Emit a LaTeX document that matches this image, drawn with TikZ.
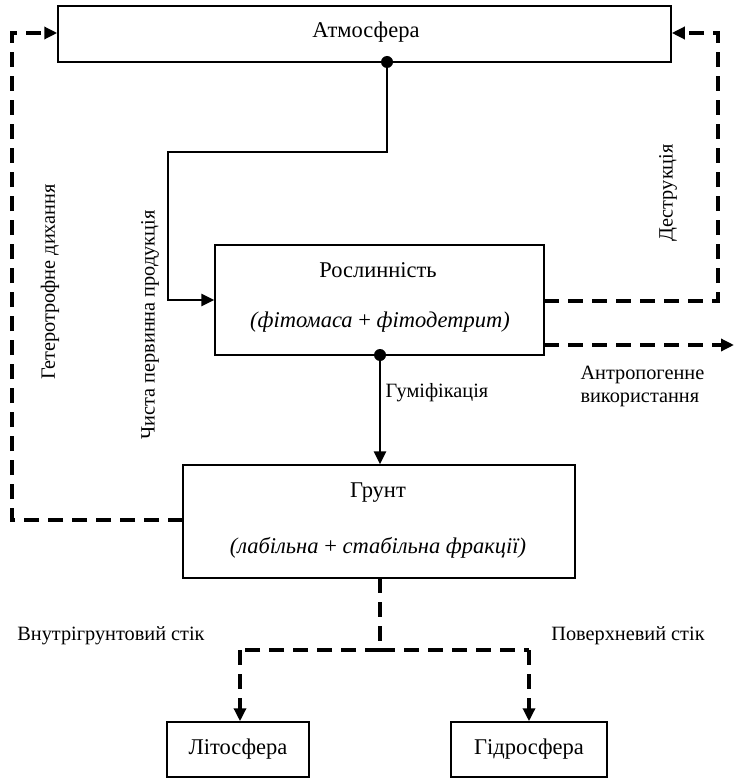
\documentclass[tikz,border=0pt]{standalone}
\usepackage{fontspec}
\setmainfont{Liberation Serif}
\usetikzlibrary{arrows.meta}
\begin{document}
\begin{tikzpicture}[x=1pt,y=-1pt,
  box/.style={draw,line width=1.5pt,inner sep=0pt,font=\fontsize{22.5}{26}\selectfont},
  btxt/.style={font=\fontsize{22.5}{26}\selectfont},
  solidline/.style={line width=2.8pt},
  dashline/.style={line width=3.8pt,dash pattern=on 15pt off 9pt},
  tip/.style={-{Triangle[length=13pt,width=12pt]}},
  lbl/.style={font=\fontsize{20.3}{23}\selectfont},
  dotc/.style={circle,fill,inner sep=0pt,minimum size=12pt}]
\useasboundingbox (0,0) rectangle (734,778);
% boxes
\node[box,minimum width=613pt,minimum height=56pt] (atm) at (364.5,34) {};
\node[btxt] (atmt) at (366,32) {Атмосфера};
\node[box,minimum width=329pt,minimum height=110pt] (rosl) at (379.5,300) {};
\node[btxt] (roslt) at (378,270) {Рослинність};
\node[btxt] (rosli) at (380,322) {\textit{(фітомаса} + \textit{фітодетрит)}};
\node[box,minimum width=392pt,minimum height=113pt] (grunt) at (379,521.5) {};
\node[btxt] (gruntt) at (378,493) {Грунт};
\node[btxt] (grunti) at (378,548) {\textit{(лабільна} + \textit{стабільна фракції)}};
\node[box,minimum width=142pt,minimum height=55pt] (lito) at (238,749.5) {Літосфера};
\node[box,minimum width=156pt,minimum height=55pt] (hidro) at (529,749.5) {Гідросфера};
% coordinates
\coordinate (d1) at (387,62);
\coordinate (c1) at (387,152);
\coordinate (c2) at (168,152);
\coordinate (c3) at (168,300);
\coordinate (d2) at (380,355);
\coordinate (gw) at (183,520);
\coordinate (l1) at (12,520);
\coordinate (l2) at (12,33);
\coordinate (re1) at (544,301);
\coordinate (r1) at (718,301);
\coordinate (r2) at (718,33);
\coordinate (re2) at (544,345);
\coordinate (rend) at (734,345);
\coordinate (gs) at (380,578);
\coordinate (b0) at (380,650);
\coordinate (bl) at (240,650);
\coordinate (br) at (529,650);
% solid connectors
\draw[solidline,tip] (d1) -- (c1) -- (c2) -- (c3) -- (rosl.west |- c3);
\draw[solidline,tip] (d2) -- (grunt.north -| d2);
\node[dotc] (dot1) at (d1) {};
\node[dotc] (dot2) at (d2) {};
% dashed connectors
\draw[dashline,tip] (gw) -- (l1) -- (l2) -- (atm.west |- l2);
\draw[dashline,tip] (re1) -- (r1) -- (r2) -- (atm.east |- r2);
\draw[dashline,tip] (re2) -- (rend);
\draw[dashline] (gs) -- (b0);
\draw[dashline] (b0) -- (bl);
\draw[dashline] (b0) -- (br);
\draw[dashline,tip] (bl) -- (lito.north -| bl);
\draw[dashline,tip] (br) -- (hidro.north -| br);
% labels
\node[lbl,rotate=90] (lb1) at (150,325) {Чиста первинна продукція};
\node[lbl,rotate=90] (lb2) at (50,282) {Гетеротрофне дихання};
\node[lbl,rotate=90] (lb3) at (668,193) {Деструкція};
\node[lbl] (lb4) at (437,393) {Гуміфікація};
\node[lbl,align=left,anchor=west] (lb5) at (577,386) {Антропогенне\\використання};
\node[lbl] (lb6) at (111,636) {Внутрігрунтовий стік};
\node[lbl] (lb7) at (628,636) {Поверхневий стік};
\end{tikzpicture}
\end{document}
